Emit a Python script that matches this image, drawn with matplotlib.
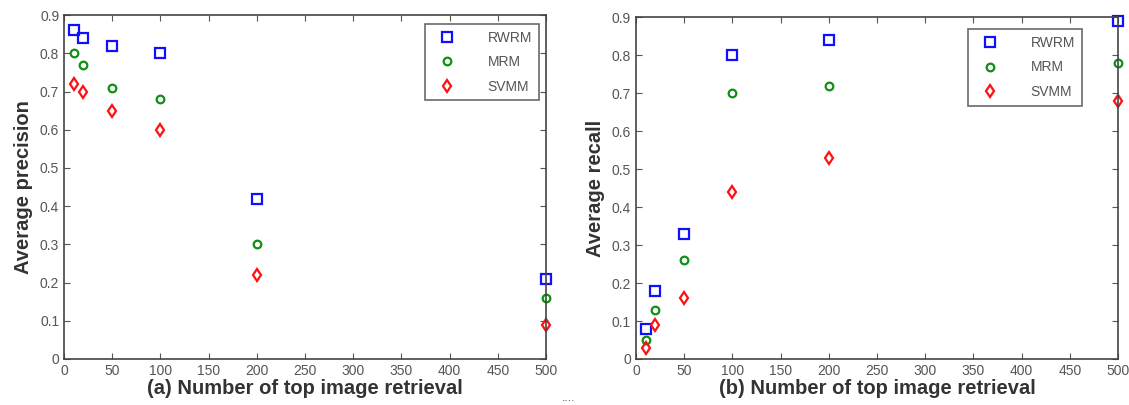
import matplotlib
matplotlib.use('Agg')
import matplotlib.pyplot as plt

# datos
n_top = [10, 20, 50, 100, 200, 500]
metodos = ['RWRM', 'MRM', 'SVMM']

precision_rwrm = [0.86, 0.84, 0.82, 0.80, 0.42, 0.21]
precision_mrm = [0.80, 0.77, 0.71, 0.68, 0.30, 0.16]
precision_svmm = [0.72, 0.70, 0.65, 0.60, 0.22, 0.09]

recall_rwrm = [0.08, 0.18, 0.33, 0.80, 0.84, 0.89]
recall_mrm = [0.05, 0.13, 0.26, 0.70, 0.72, 0.78]
recall_svmm = [0.03, 0.09, 0.16, 0.44, 0.53, 0.68]

x_ticks = [0, 50, 100, 150, 200, 250, 300, 350, 400, 450, 500]
y_ticks = [0, 0.1, 0.2, 0.3, 0.4, 0.5, 0.6, 0.7, 0.8, 0.9]

plt.rcParams['font.family'] = ['Liberation Sans', 'DejaVu Sans']

estilos = [('s', '#1010ff', 6.5), ('o', '#109010', 5.5), ('d', '#ff1010', 6.5)]
gris = '#555555'


def grafico_puntos(ax, series, etiqueta_y, etiqueta_x, pos_leyenda):
    for valores, nombre, (m, c, ms) in zip(series, metodos, estilos):
        ax.plot(n_top, valores, linestyle='none', marker=m, markersize=ms,
                markerfacecolor='none', markeredgecolor=c, markeredgewidth=1.6,
                label=nombre, clip_on=False)
    ax.set_xlim(0, 500)
    ax.set_ylim(0, 0.9)
    ax.set_xticks(x_ticks)
    ax.set_yticks(y_ticks)
    ax.set_yticklabels(['0'] + ['%.1f' % v for v in y_ticks[1:]])
    ax.tick_params(direction='in', top=True, right=True, length=4,
                   labelsize=10, colors=gris, labelcolor=gris)
    for s in ax.spines.values():
        s.set_color('#444444')
        s.set_linewidth(1.2)
    ax.set_ylabel(etiqueta_y, fontsize=14.5, fontweight='bold', color='#333333', labelpad=5)
    ax.set_xlabel(etiqueta_x, fontsize=14.5, fontweight='bold', color='#333333', labelpad=1)
    leg = ax.legend(loc='upper right', bbox_to_anchor=pos_leyenda, fancybox=False,
                    fontsize=10, handletextpad=1.8, borderpad=0.5,
                    labelspacing=0.75, handlelength=2.2, borderaxespad=0)
    leg.get_frame().set_edgecolor('#444444')
    leg.get_frame().set_linewidth(1.2)
    for t in leg.get_texts():
        t.set_color(gris)


fig = plt.figure(figsize=(11.29, 4.05), dpi=100)
ax1 = fig.add_axes([0.0567, 0.1136, 0.427, 0.849])
ax2 = fig.add_axes([0.5633, 0.1136, 0.427, 0.844])

grafico_puntos(ax1, [precision_rwrm, precision_mrm, precision_svmm],
               'Average precision', '(a) Number of top image retrieval', (0.985, 0.975))
grafico_puntos(ax2, [recall_rwrm, recall_mrm, recall_svmm],
               'Average recall', '(b) Number of top image retrieval', (0.925, 0.965))

fig.text(0.498, 0.01, '....', fontsize=9, color=gris)

fig.savefig('out.png', dpi=100)
